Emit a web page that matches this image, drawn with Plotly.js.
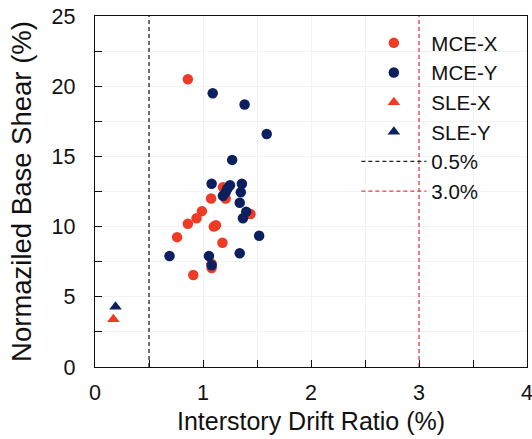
<!DOCTYPE html>
<html>
<head>
<meta charset="utf-8">
<script src="https://cdn.plot.ly/plotly-3.0.1.min.js"></script>
<style>html,body{margin:0;padding:0;background:#fff;overflow:hidden}#chart{width:532px;height:439px}</style>
</head>
<body>
<div id="chart"></div>
<script>
// MCE-X (red circles)
const mceX_drift = [0.86, 1.185, 1.21, 1.075, 0.99, 0.94, 0.86, 1.12, 1.10, 1.44, 0.76, 1.18, 1.08, 1.08, 0.91];
const mceX_shear = [20.5, 12.8, 12.0, 12.0, 11.1, 10.6, 10.2, 10.1, 10.0, 10.9, 9.25, 8.85, 7.35, 7.05, 6.55];
// MCE-Y (navy circles)
const mceY_drift = [1.09, 1.385, 1.59, 1.27, 1.08, 1.36, 1.25, 1.35, 1.225, 1.21, 1.185, 1.34, 1.40, 1.37, 1.52, 1.34, 0.69, 1.055, 1.08];
const mceY_shear = [19.5, 18.7, 16.6, 14.75, 13.05, 13.05, 12.95, 12.45, 12.7, 12.45, 12.2, 11.7, 11.05, 10.6, 9.35, 8.1, 7.9, 7.9, 7.25];
// SLE-X / SLE-Y (triangles)
const sleX_drift = [0.17];
const sleX_shear = [3.4];
const sleY_drift = [0.19];
const sleY_shear = [4.3];
// Reference drift limits
const limitNames = ["0.5%", "3.0%"];
const limitValues = [0.5, 3.0];
const shearRange = [0, 25];

const RED = "#ef3b26";
const NAVY = "#0c1f5e";

const traces = [
  {x: mceX_drift, y: mceX_shear, name: "MCE-X", mode: "markers", type: "scatter",
   marker: {color: RED, size: 10.5, symbol: "circle"}},
  {x: mceY_drift, y: mceY_shear, name: "MCE-Y", mode: "markers", type: "scatter",
   marker: {color: NAVY, size: 10.5, symbol: "circle"}},
  {x: sleX_drift, y: sleX_shear, name: "SLE-X", mode: "markers", type: "scatter",
   marker: {color: RED, size: 11, symbol: "triangle-up"}},
  {x: sleY_drift, y: sleY_shear, name: "SLE-Y", mode: "markers", type: "scatter",
   marker: {color: NAVY, size: 11, symbol: "triangle-up"}},
  {x: [limitValues[0], limitValues[0]], y: shearRange, name: limitNames[0], mode: "lines", type: "scatter",
   line: {color: "#222222", width: 1.3, dash: "4px,3px"}},
  {x: [limitValues[1], limitValues[1]], y: shearRange, name: limitNames[1], mode: "lines", type: "scatter",
   line: {color: "#e0404c", width: 1.3, dash: "4px,3px"}}
];

const font = "Liberation Sans, Arial, sans-serif";
const layout = {
  width: 532, height: 439,
  margin: {l: 95, r: 5, t: 16, b: 72},
  paper_bgcolor: "#fff", plot_bgcolor: "#fff",
  font: {family: font, color: "#111", size: 21},
  showlegend: true,
  legend: {x: 0.605, y: 0.98, xanchor: "left", yanchor: "top", bgcolor: "rgba(0,0,0,0)",
           font: {family: font, size: 20.5, color: "#111"}, itemwidth: 65, tracegroupgap: 0},
  xaxis: {
    range: [0, 4], dtick: 1, tick0: 0, ticks: "inside", ticklen: 7, tickcolor: "#111",
    showline: true, mirror: true, linecolor: "#111", linewidth: 1.3,
    showgrid: true, gridcolor: "#f3f3f3", zeroline: false, ticklabeloverflow: "allow",
    minor: {dtick: 0.5, ticks: "inside", ticklen: 7, tickcolor: "#111", showgrid: true, gridcolor: "#f3f3f3"},
    tickfont: {family: font, size: 21.5, color: "#111"}, ticklabelstandoff: 6,
    title: {text: "Interstory Drift Ratio (%)", font: {family: font, size: 25, color: "#111"}, standoff: 8}
  },
  yaxis: {
    range: [0, 25], dtick: 5, tick0: 0, ticks: "inside", ticklen: 7, tickcolor: "#111",
    showline: true, mirror: true, linecolor: "#111", linewidth: 1.3,
    showgrid: true, gridcolor: "#f3f3f3", zeroline: false,
    minor: {dtick: 2.5, ticks: "inside", ticklen: 7, tickcolor: "#111", showgrid: true, gridcolor: "#f3f3f3"},
    tickfont: {family: font, size: 21.5, color: "#111"}, ticklabelstandoff: 14,
    title: {text: "Normaziled Base Shear (%)", font: {family: font, size: 27.5, color: "#111"}, standoff: 12}
  }
};

Plotly.newPlot("chart", traces, layout, {displayModeBar: false, staticPlot: true});
</script>
</body>
</html>
